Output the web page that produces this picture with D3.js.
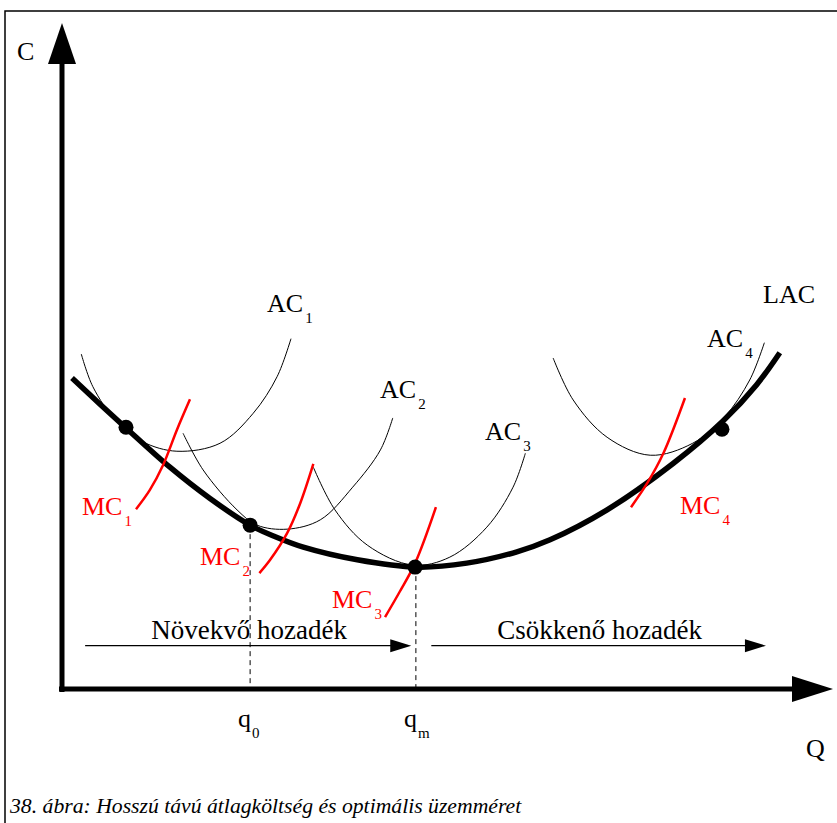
<!DOCTYPE html>
<html>
<head>
<meta charset="utf-8">
<script src="https://cdn.jsdelivr.net/npm/d3@7/dist/d3.min.js"></script>
<style>
  body { margin: 0; background: #fff; }
  svg { display: block; }
</style>
</head>
<body>
<svg id="chart" width="837" height="823" font-family="Liberation Serif, Times New Roman, DejaVu Serif, serif"></svg>
<script>
// Long-run average cost (LAC) as the envelope of short-run AC curves,
// with the matching short-run MC curves and the tangency points.

// [Q, C] points along each curve
const lac = [
  [1.3, 46.7], [4.9, 42.8], [8.3, 39.2], [14.0, 33.3], [19.2, 28.6],
  [24.4, 24.6], [27.6, 22.9], [31.3, 21.3], [38.3, 19.4], [46.0, 18.3],
  [52.5, 18.9], [59.0, 20.6], [63.3, 22.4], [70.7, 26.9], [79.3, 33.9],
  [85.7, 40.2], [90.1, 45.7], [93.1, 50.5]
];
const ac1 = [[2.5, 50.3], [4.0, 45.4], [7.1, 40.1], [10.5, 37.1], [14.9, 35.7],
             [20.5, 36.9], [24.8, 41.4], [27.9, 46.9], [29.7, 52.6]];
const ac2 = [[15.7, 38.4], [18.3, 32.9], [22.7, 26.9], [25.3, 24.6], [29.2, 24.0],
             [33.5, 25.4], [37.7, 30.3], [41.3, 35.9], [42.9, 40.7]];
const ac3 = [[32.6, 33.3], [35.4, 26.9], [39.6, 21.6], [45.5, 18.6], [50.3, 19.8],
             [55.1, 24.3], [58.5, 30.3], [60.1, 35.4]];
const ac4 = [[63.7, 49.7], [66.3, 43.4], [70.7, 37.8], [76.3, 35.1], [81.8, 36.9],
             [85.9, 40.8], [89.2, 46.4], [91.1, 52.0]];
const mc1 = [[9.6, 27.0], [11.4, 29.9], [13.1, 33.6], [14.9, 38.9], [16.6, 43.5]];
const mc2 = [[25.6, 17.4], [27.0, 19.4], [29.2, 23.4], [30.9, 27.9], [32.6, 33.8]];
const mc3 = [[41.9, 10.8], [43.8, 14.6], [45.8, 18.9], [48.5, 27.3]];
const mc4 = [[73.8, 27.3], [75.9, 30.9], [78.0, 35.4], [80.8, 43.7]];

// tangency points of AC curves with LAC
const tangencyQ = [8.3, 24.4, 45.8, 85.6];
const tangencyC = [39.3, 24.6, 18.3, 39.0];

// marked quantities on the Q axis
const tickQ = [24.4, 45.9];
const tickMain = ["q", "q"];
const tickSub = ["0", "m"];

// returns-to-scale ranges on Q
const rangeStart = [3.0, 47.9];
const rangeEnd = [45.3, 91.3];
const rangeLevel = 6.5;
const rangeLabels = ["Növekvő hozadék", "Csökkenő hozadék"];

const acNames = ["AC", "AC", "AC", "AC"];
const acSubs = ["1", "2", "3", "4"];
const mcSubs = ["1", "2", "3", "4"];
const caption = "38. ábra: Hosszú távú átlagköltség és optimális üzemméret";

const svg = d3.select("#chart");

const x = d3.scaleLinear().domain([0, 100]).range([62, 833]);
const y = d3.scaleLinear().domain([0, 100]).range([689, 23]);

// frame
svg.append("rect")
  .attr("x", 5).attr("y", 11).attr("width", 900).attr("height", 900)
  .attr("fill", "none").attr("stroke", "#000").attr("stroke-width", 1.5);

const line = d3.line()
  .x(d => x(d[0])).y(d => y(d[1]))
  .curve(d3.curveCatmullRom.alpha(0.5));

// axes
const x0 = x(0), y0 = y(0);
svg.append("line")
  .attr("x1", x0).attr("y1", y0 + 3).attr("x2", x0).attr("y2", y(100) + 38)
  .attr("stroke", "#000").attr("stroke-width", 5);
svg.append("path")
  .attr("d", `M${x0 - 14},${y(100) + 41} L${x0 + 14},${y(100) + 41} L${x0},${y(100)} Z`)
  .attr("fill", "#000");
svg.append("line")
  .attr("x1", x0 - 3).attr("y1", y0).attr("x2", x(100) - 38).attr("y2", y0)
  .attr("stroke", "#000").attr("stroke-width", 5);
svg.append("path")
  .attr("d", `M${x(100) - 41},${y0 - 13} L${x(100) - 41},${y0 + 13} L${x(100)},${y0} Z`)
  .attr("fill", "#000");

// dashed guides from tangency points down to the Q axis
tickQ.forEach((q, i) => {
  const c = i === 0 ? tangencyC[1] : tangencyC[2];
  svg.append("line")
    .attr("x1", x(q)).attr("x2", x(q))
    .attr("y1", y(c)).attr("y2", y0)
    .attr("stroke", "#000").attr("stroke-width", 1)
    .attr("stroke-dasharray", "5,4");
});

// short-run AC curves
[ac1, ac2, ac3, ac4].forEach(pts => {
  svg.append("path").attr("d", line(pts))
    .attr("fill", "none").attr("stroke", "#000").attr("stroke-width", 1);
});

// LAC envelope
svg.append("path").attr("d", line(lac))
  .attr("fill", "none").attr("stroke", "#000").attr("stroke-width", 5.5)
  .attr("stroke-linecap", "butt");

// short-run MC curves
[mc1, mc2, mc3, mc4].forEach(pts => {
  svg.append("path").attr("d", line(pts))
    .attr("fill", "none").attr("stroke", "#ff0000").attr("stroke-width", 2.5);
});

// tangency points
svg.selectAll("circle.tp").data(tangencyQ).join("circle")
  .attr("class", "tp")
  .attr("cx", d => x(d)).attr("cy", (d, i) => y(tangencyC[i]))
  .attr("r", 7.5).attr("fill", "#000");

// range arrows
rangeStart.forEach((s, i) => {
  const e = rangeEnd[i], yy = y(rangeLevel);
  svg.append("line")
    .attr("x1", x(s)).attr("x2", x(e) - 18).attr("y1", yy).attr("y2", yy)
    .attr("stroke", "#000").attr("stroke-width", 1.3);
  svg.append("path")
    .attr("d", `M${x(e) - 21},${yy - 6.5} L${x(e)},${yy} L${x(e) - 21},${yy + 6.5} Z`)
    .attr("fill", "#000");
  svg.append("text")
    .attr("x", (x(s) + x(e)) / 2 + 1).attr("y", yy - 7)
    .attr("text-anchor", "middle").attr("font-size", 27)
    .text(rangeLabels[i]);
});

// label helper with subscript
function label(px, py, main, sub, color, size, subSize, subDx, subDy) {
  const t = svg.append("text").attr("x", px).attr("y", py)
    .attr("font-size", size).attr("fill", color);
  t.append("tspan").text(main);
  if (sub) {
    t.append("tspan").attr("font-size", subSize)
      .attr("dx", subDx).attr("dy", subDy).text(sub);
  }
  return t;
}

label(17, 60, "C", null, "#000", 26);
label(806, 757, "Q", null, "#000", 26);
label(763, 303, "LAC", null, "#000", 26);

const acPos = [[267, 312], [380, 398], [485, 440], [707, 347]];
acPos.forEach((p, i) => label(p[0], p[1], acNames[i], acSubs[i], "#000", 26, 15, 2, 11));

const mcPos = [[82, 515], [200, 565], [332, 608], [680, 514]];
mcPos.forEach((p, i) => label(p[0], p[1], "MC", mcSubs[i], "#ff0000", 26, 15, 2, 11));

tickQ.forEach((q, i) => {
  label(x(q) - 12, 727, tickMain[i], tickSub[i], "#000", 26, 15, 1, 11);
});

svg.append("text")
  .attr("x", 10).attr("y", 813)
  .attr("font-size", 21.7).attr("font-style", "italic")
  .text(caption);
</script>
</body>
</html>
